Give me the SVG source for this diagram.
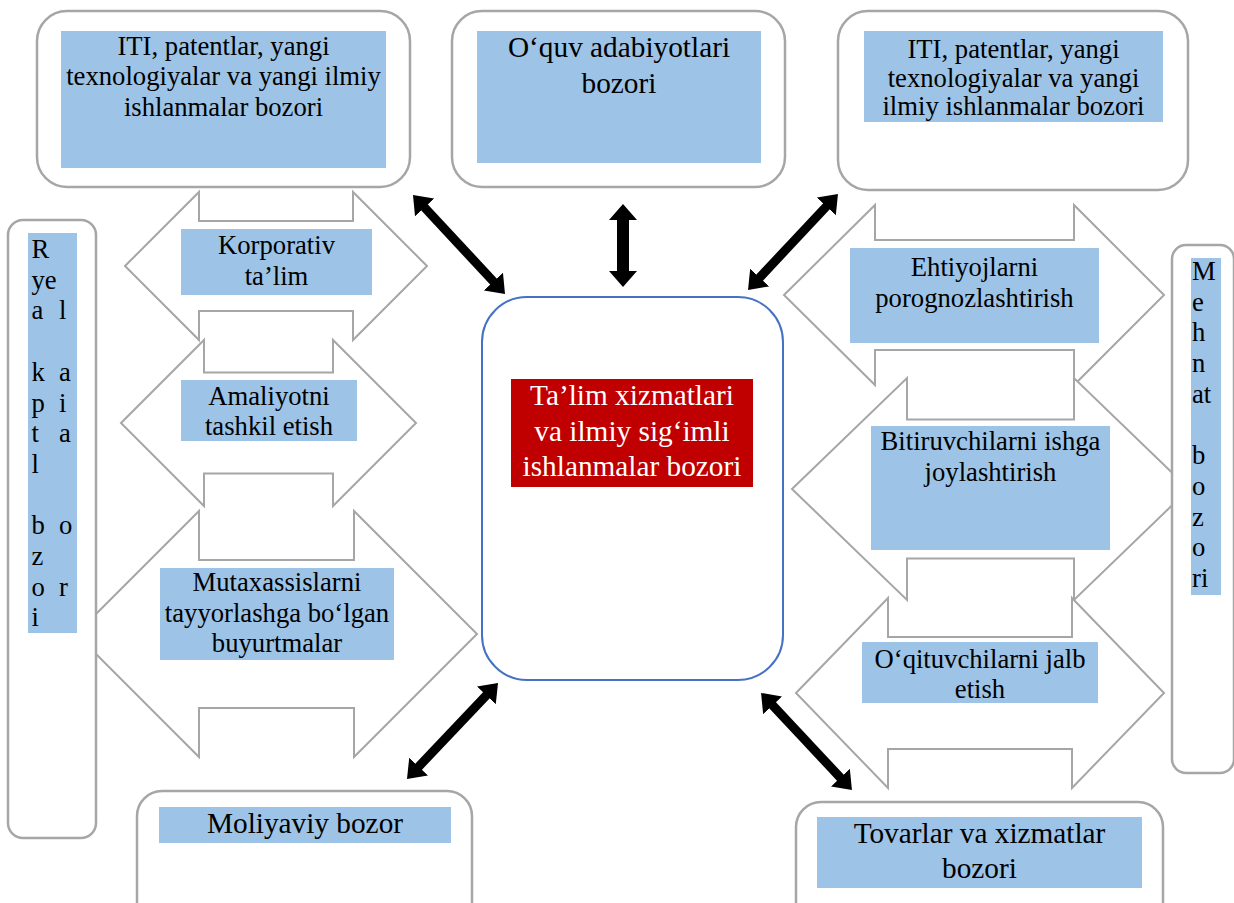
<svg xmlns="http://www.w3.org/2000/svg" width="1234" height="903" viewBox="0 0 1234 903">
<defs>
<style>
.box{fill:#fff;stroke:#A6A6A6;stroke-width:2.5}
.blk{fill:#fff;stroke:#A6A6A6;stroke-width:2}
.lbl{fill:#9DC3E6}
.t{font-family:"Liberation Serif","Times New Roman",serif;font-size:26.67px;fill:#000;text-anchor:middle}
.tb{font-family:"Liberation Serif","Times New Roman",serif;font-size:29.3px;fill:#000;text-anchor:middle}
.tv{font-family:"Liberation Serif","Times New Roman",serif;font-size:26.67px;fill:#000}
.conn{stroke:#000;stroke-width:9;fill:none}
</style>
<marker id="ah" markerUnits="userSpaceOnUse" markerWidth="18" markerHeight="26" refX="2" refY="13" orient="auto-start-reverse"><path d="M0,0 L17,13 L0,26 Z" fill="#000"/></marker>
<marker id="ahv" markerUnits="userSpaceOnUse" markerWidth="17" markerHeight="30" refX="1" refY="15" orient="auto-start-reverse"><path d="M0,1 L16,15 L0,29 Z" fill="#000"/></marker>
</defs>
<rect width="1234" height="903" fill="#fff"/>

<g id="arrow-korporativ">
<path class="blk" d="M125,266 L199,192 L199,221 L353,221 L353,192 L427,266 L353,340 L353,311 L199,311 L199,340 Z"/>
<rect class="lbl" x="181" y="229" width="191" height="66"/>
<text class="t"><tspan x="276.5" y="254">Korporativ</tspan><tspan x="276.5" y="285">ta’lim</tspan></text>
</g>
<g id="arrow-amaliyot">
<path class="blk" d="M121,423 L204,340 L204,372.5 L333,372.5 L333,340 L416,423 L333,506 L333,473.5 L204,473.5 L204,506 Z"/>
<rect class="lbl" x="181" y="380" width="176" height="61"/>
<text class="t"><tspan x="269" y="404.5">Amaliyotni</tspan><tspan x="269" y="435">tashkil etish</tspan></text>
</g>
<g id="arrow-mutaxassis">
<path class="blk" d="M76,634 L199,511 L199,560 L354,560 L354,511 L477,634 L354,757 L354,708 L199,708 L199,757 Z"/>
<rect class="lbl" x="160" y="568" width="234" height="92"/>
<text class="t"><tspan x="277" y="591">Mutaxassislarni</tspan><tspan x="277" y="621.7">tayyorlashga bo‘lgan</tspan><tspan x="277" y="652.4">buyurtmalar</tspan></text>
</g>
<g id="arrow-ehtiyoj">
<path class="blk" d="M784,295 L875,205 L875,240 L1074,240 L1074,205 L1164,295 L1074,385 L1074,350 L875,350 L875,385 Z"/>
<rect class="lbl" x="850" y="248" width="249" height="95"/>
<text class="t"><tspan x="974.5" y="276">Ehtiyojlarni</tspan><tspan x="974.5" y="306.7">porognozlashtirish</tspan></text>
</g>
<g id="arrow-bitiruvchi">
<path class="blk" d="M792,489 L907,378 L907,419.5 L1074,419.5 L1074,378 L1189,489 L1074,600 L1074,558.5 L907,558.5 L907,600 Z"/>
<rect class="lbl" x="871" y="426" width="239" height="124"/>
<text class="t"><tspan x="990.5" y="450">Bitiruvchilarni ishga</tspan><tspan x="990.5" y="480.7">joylashtirish</tspan></text>
</g>
<g id="arrow-oqituvchi">
<path class="blk" d="M796,693 L888,598 L888,637 L1072,637 L1072,598 L1164,693 L1072,788 L1072,749 L888,749 L888,788 Z"/>
<rect class="lbl" x="862" y="642" width="236" height="61"/>
<text class="t"><tspan x="980" y="667.5">O‘qituvchilarni jalb</tspan><tspan x="980" y="698">etish</tspan></text>
</g>

<g id="real-kapital">
<rect class="box" x="8" y="220" width="88" height="618" rx="15"/>
<rect class="lbl" x="28" y="233" width="49" height="400"/>
<text class="tv"><tspan x="31.5" y="258">R</tspan><tspan x="31.5" y="288.7">ye</tspan><tspan x="31.5" y="319.4">a</tspan><tspan x="59" y="319.4">l</tspan><tspan x="31.5" y="380.8">k</tspan><tspan x="59" y="380.8">a</tspan><tspan x="31.5" y="411.5">p</tspan><tspan x="59" y="411.5">i</tspan><tspan x="31.5" y="442.2">t</tspan><tspan x="59" y="442.2">a</tspan><tspan x="31.5" y="472.9">l</tspan><tspan x="31.5" y="534.3">b</tspan><tspan x="59" y="534.3">o</tspan><tspan x="31.5" y="565">z</tspan><tspan x="31.5" y="595.7">o</tspan><tspan x="59" y="595.7">r</tspan><tspan x="31.5" y="626.4">i</tspan></text>
</g>
<g id="mehnat">
<rect class="box" x="1172" y="245" width="62" height="528" rx="14"/>
<rect class="lbl" x="1191" y="258" width="30" height="337"/>
<text class="tv"><tspan x="1192" y="280">M</tspan><tspan x="1192" y="310.7">e</tspan><tspan x="1192" y="341.4">h</tspan><tspan x="1192" y="372.1">n</tspan><tspan x="1192" y="402.8">at</tspan><tspan x="1192" y="464.2">b</tspan><tspan x="1192" y="494.9">o</tspan><tspan x="1192" y="525.6">z</tspan><tspan x="1192" y="556.3">o</tspan><tspan x="1192" y="587">ri</tspan></text>
</g>

<g id="iti-left">
<rect class="box" x="37" y="11" width="373" height="176" rx="30"/>
<rect class="lbl" x="61" y="31" width="325" height="137"/>
<text class="t"><tspan x="223.5" y="54.5">ITI, patentlar, yangi</tspan><tspan x="223.5" y="85">texnologiyalar va yangi ilmiy</tspan><tspan x="223.5" y="115.5">ishlanmalar bozori</tspan></text>
</g>
<g id="oquv">
<rect class="box" x="452" y="11" width="333" height="176" rx="30"/>
<rect class="lbl" x="477" y="31" width="284" height="132"/>
<text class="tb"><tspan x="619" y="57">O‘quv adabiyotlari</tspan><tspan x="619" y="92.5">bozori</tspan></text>
</g>
<g id="iti-right">
<rect class="box" x="838" y="11" width="350" height="179" rx="30"/>
<rect class="lbl" x="864" y="31" width="299" height="91"/>
<text class="t"><tspan x="1013.5" y="58">ITI, patentlar, yangi</tspan><tspan x="1013.5" y="86.5">texnologiyalar va yangi</tspan><tspan x="1013.5" y="115">ilmiy ishlanmalar bozori</tspan></text>
</g>
<g id="center">
<rect x="482" y="297" width="301" height="383" rx="45" fill="#fff" stroke="#4472C4" stroke-width="2"/>
<rect x="511" y="379" width="242" height="108" fill="#C00000"/>
<text class="tb" style="fill:#fff"><tspan x="632" y="405">Ta’lim xizmatlari</tspan><tspan x="632" y="440.5">va ilmiy sig‘imli</tspan><tspan x="632" y="476">ishlanmalar bozori</tspan></text>
</g>
<g id="moliyaviy">
<rect class="box" x="137" y="791" width="335" height="140" rx="25"/>
<rect class="lbl" x="159" y="807" width="292" height="36"/>
<text class="tb" x="305" y="833.3">Moliyaviy bozor</text>
</g>
<g id="tovarlar">
<rect class="box" x="796" y="802" width="367" height="130" rx="25"/>
<rect class="lbl" x="817" y="817" width="325" height="71"/>
<text class="tb"><tspan x="979.5" y="843.3">Tovarlar va xizmatlar</tspan><tspan x="979.5" y="878.3">bozori</tspan></text>
</g>

<g id="connectors">
<path class="conn" d="M423.2,206 L494.8,283" marker-start="url(#ah)" marker-end="url(#ah)"/>
<path class="conn" style="stroke-width:12" d="M623,219 L623,272" marker-start="url(#ahv)" marker-end="url(#ahv)"/>
<path class="conn" d="M758.3,279 L827.7,205" marker-start="url(#ah)" marker-end="url(#ah)"/>
<path class="conn" d="M487.7,693.9 L417.3,768.1" marker-start="url(#ah)" marker-end="url(#ah)"/>
<path class="conn" d="M771.3,703.9 L841.7,779.1" marker-start="url(#ah)" marker-end="url(#ah)"/>
</g>
</svg>
